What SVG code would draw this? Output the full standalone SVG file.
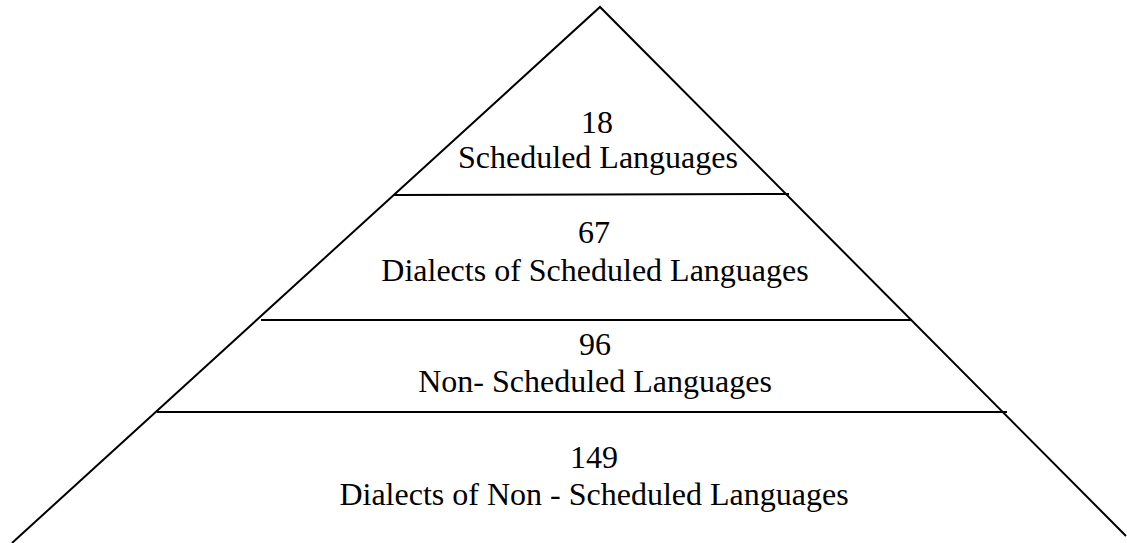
<svg xmlns="http://www.w3.org/2000/svg" width="1127" height="543" viewBox="0 0 1127 543">
<style>
.ln{stroke:#000;stroke-width:2;fill:none}
.t{font-family:"Liberation Serif","Times New Roman",serif;font-size:32px;fill:#000;text-anchor:middle}
</style>
<rect width="1127" height="543" fill="#fff"/>
<g id="connectors">
<polyline class="ln" points="12,543 600,7 1126,536"/>
<line class="ln" x1="394" y1="195" x2="789" y2="194"/>
<line class="ln" x1="261" y1="320" x2="912" y2="320"/>
<line class="ln" x1="157" y1="412" x2="1007" y2="412"/>
</g>
<g id="tier1">
<text class="t" x="597" y="133">18</text>
<text class="t" x="598" y="168">Scheduled Languages</text>
</g>
<g id="tier2">
<text class="t" x="594" y="243">67</text>
<text class="t" x="595" y="281">Dialects of Scheduled Languages</text>
</g>
<g id="tier3">
<text class="t" x="595" y="355">96</text>
<text class="t" x="595" y="392">Non- Scheduled Languages</text>
</g>
<g id="tier4">
<text class="t" x="594" y="468">149</text>
<text class="t" x="594" y="505">Dialects of Non - Scheduled Languages</text>
</g>
</svg>
